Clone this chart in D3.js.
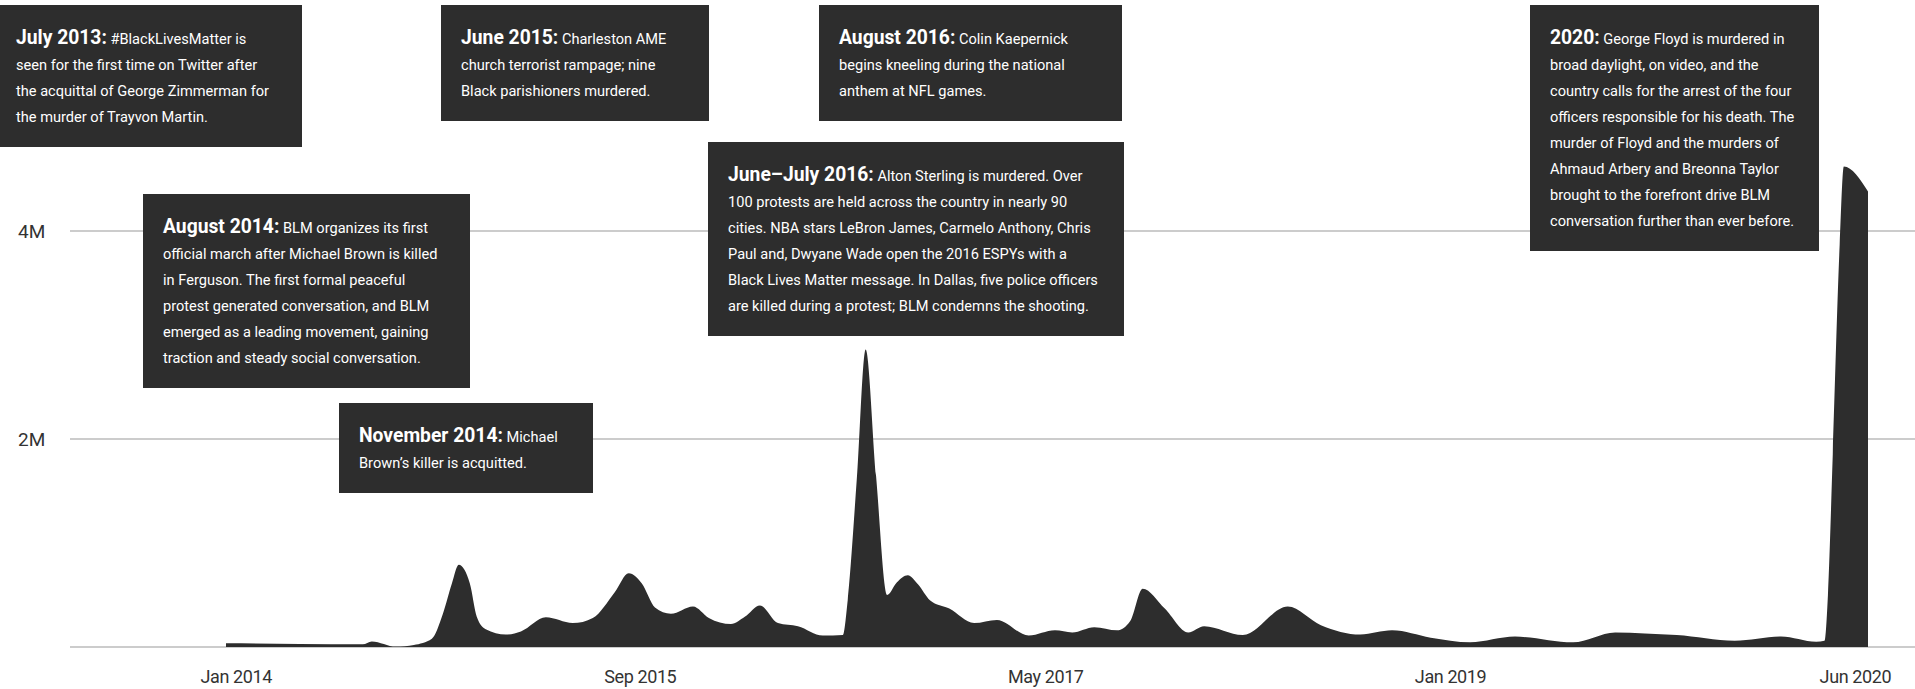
<!DOCTYPE html>
<html><head><meta charset="utf-8">
<script src="https://cdn.jsdelivr.net/npm/d3@7"></script>
<style>
html,body{margin:0;padding:0;background:#fff;}
svg{display:block;}
</style></head>
<body><svg id="chart" width="1915" height="689"></svg>
<script>
// ---- data ----
const dates = ["2014-01-01","2014-04-18","2014-07-18","2014-07-31","2014-09-04","2014-09-30","2014-10-26","2014-11-11","2014-11-24","2014-12-04","2014-12-20","2014-12-30",
"2015-01-12","2015-02-10","2015-03-04","2015-04-09","2015-05-18","2015-06-16","2015-07-18","2015-08-07","2015-08-26","2015-09-14","2015-10-07","2015-11-08","2015-12-01",
"2016-01-02","2016-01-22","2016-02-13","2016-03-10","2016-04-08","2016-05-14","2016-06-12","2016-06-19","2016-07-02","2016-07-15","2016-07-30","2016-08-15","2016-08-29","2016-09-14","2016-09-29","2016-10-16","2016-11-13","2016-12-19",
"2017-01-21","2017-03-08","2017-04-15","2017-05-10","2017-06-11","2017-07-14","2017-08-02","2017-08-20","2017-09-21","2017-10-25","2017-11-17",
"2018-01-12","2018-03-18","2018-05-05","2018-07-01","2018-08-16","2018-10-11","2018-12-07",
"2019-02-10","2019-05-05","2019-07-05","2019-08-17","2019-10-02","2019-12-25",
"2020-03-01","2020-04-21","2020-05-03","2020-05-08","2020-05-15","2020-05-25","2020-05-31","2020-07-05"];
const values = [0.035,0.030,0.026,0.054,0.004,0.020,0.080,0.320,0.610,0.790,0.610,0.290,
0.170,0.120,0.150,0.285,0.230,0.280,0.530,0.710,0.610,0.380,0.320,0.390,0.280,
0.220,0.290,0.400,0.230,0.200,0.110,0.115,0.450,1.600,2.860,1.650,0.500,0.620,0.690,0.600,0.450,0.370,0.230,
0.260,0.110,0.160,0.140,0.190,0.160,0.250,0.560,0.370,0.140,0.200,
0.115,0.390,0.210,0.120,0.160,0.090,0.045,
0.100,0.045,0.140,0.130,0.115,0.060,
0.100,0.050,0.060,0.500,1.850,3.870,4.620,4.380]; // millions of mentions

const yTickValues = [0, 2, 4];
const yTickLabels = ["", "2M", "4M"];
const xTickDates = ["2014-01-15","2015-08-23","2017-04-01","2018-11-08","2020-06-16"];
const xTickLabels = ["Jan 2014","Sep 2015","May 2017","Jan 2019","Jun 2020"];

const noteTitles = ["July 2013:","August 2014:","November 2014:","June 2015:","June\u2013July 2016:","August 2016:","2020:"];
const noteLines = [
  [" #BlackLivesMatter is","seen for the first time on Twitter after","the acquittal of George Zimmerman for","the murder of Trayvon Martin."],
  [" BLM organizes its first","official march after Michael Brown is killed","in Ferguson. The first formal peaceful","protest generated conversation, and BLM","emerged as a leading movement, gaining","traction and steady social conversation."],
  [" Michael","Brown\u2019s killer is acquitted."],
  [" Charleston AME","church terrorist rampage; nine","Black parishioners murdered."],
  [" Alton Sterling is murdered. Over","100 protests are held across the country in nearly 90","cities. NBA stars LeBron James, Carmelo Anthony, Chris","Paul and, Dwyane Wade open the 2016 ESPYs with a","Black Lives Matter message. In Dallas, five police officers","are killed during a protest; BLM condemns the shooting."],
  [" Colin Kaepernick","begins kneeling during the national","anthem at NFL games."],
  [" George Floyd is murdered in","broad daylight, on video, and the","country calls for the arrest of the four","officers responsible for his death. The","murder of Floyd and the murders of","Ahmaud Arbery and Breonna Taylor","brought to the forefront drive BLM","conversation further than ever before."]
];

// ---- layout (positions only) ----
const boxLayout = [
  {x:-4, y:5, w:306},
  {x:143, y:194, w:327},
  {x:339, y:403, w:254},
  {x:441, y:5, w:268},
  {x:708, y:142, w:416},
  {x:819, y:5, w:303},
  {x:1530, y:5, w:289}
];

const W = 1915, H = 689;
const FONT = "Roboto, 'Noto Sans', sans-serif";
const DARK = "#2d2d2d";
const svg = d3.select("#chart");
const parse = d3.utcParse("%Y-%m-%d");

const data = dates.map((d,i)=>({date: parse(d), v: values[i]}));

const x = d3.scaleUtc().domain([parse(dates[0]), parse(dates[dates.length-1])]).range([226, 1868]);
const y = d3.scaleLinear().domain([0, 4]).range([647, 231]);

// gridlines
svg.append("g").selectAll("line").data(yTickValues).join("line")
  .attr("x1", 70).attr("x2", W)
  .attr("y1", d=>y(d)).attr("y2", d=>y(d))
  .attr("stroke", "#cccccc").attr("stroke-width", 2);

// y labels
svg.append("g").selectAll("text").data(yTickValues).join("text")
  .attr("x", 18).attr("y", d=>y(d)).attr("dy", "0.36em")
  .attr("font-family", FONT).attr("font-size", 19).attr("fill", "#333")
  .text((d,i)=>yTickLabels[i]);

// area
const area = d3.area().x(d=>x(d.date)).y0(y(0)).y1(d=>y(d.v)).curve(d3.curveMonotoneX);
svg.append("path").datum(data).attr("d", area).attr("fill", DARK);

// x axis
const xAxis = d3.axisBottom(x)
  .tickValues(xTickDates.map(parse))
  .tickFormat((d,i)=>xTickLabels[i])
  .tickSize(0).tickPadding(23);
const gx = svg.append("g").attr("transform", `translate(0,${y(0)})`).call(xAxis);
gx.select(".domain").remove();
gx.selectAll("text").attr("font-family", FONT).attr("font-size", 18).attr("fill", "#333").attr("letter-spacing", "-0.4px");

// annotations
const LH = 26;
noteTitles.forEach((title, i)=>{
  const b = boxLayout[i];
  const lines = noteLines[i];
  const h = 38 + LH * lines.length;
  const g = svg.append("g");
  g.append("rect").attr("x", b.x).attr("y", b.y).attr("width", b.w).attr("height", h).attr("fill", DARK);
  const t = g.append("text").attr("font-family", FONT).attr("fill", "#fff").attr("font-size", 14.6);
  lines.forEach((ln, j)=>{
    const ty = b.y + 39 + j*LH;
    if (j === 0) {
      t.append("tspan").attr("font-weight", 700).attr("font-size", 19.3).attr("x", b.x+20).attr("y", ty).text(title);
      t.append("tspan").text(ln);
    } else {
      t.append("tspan").attr("x", b.x + 20).attr("y", ty).text(ln);
    }
  });
});
</script>
</body></html>
